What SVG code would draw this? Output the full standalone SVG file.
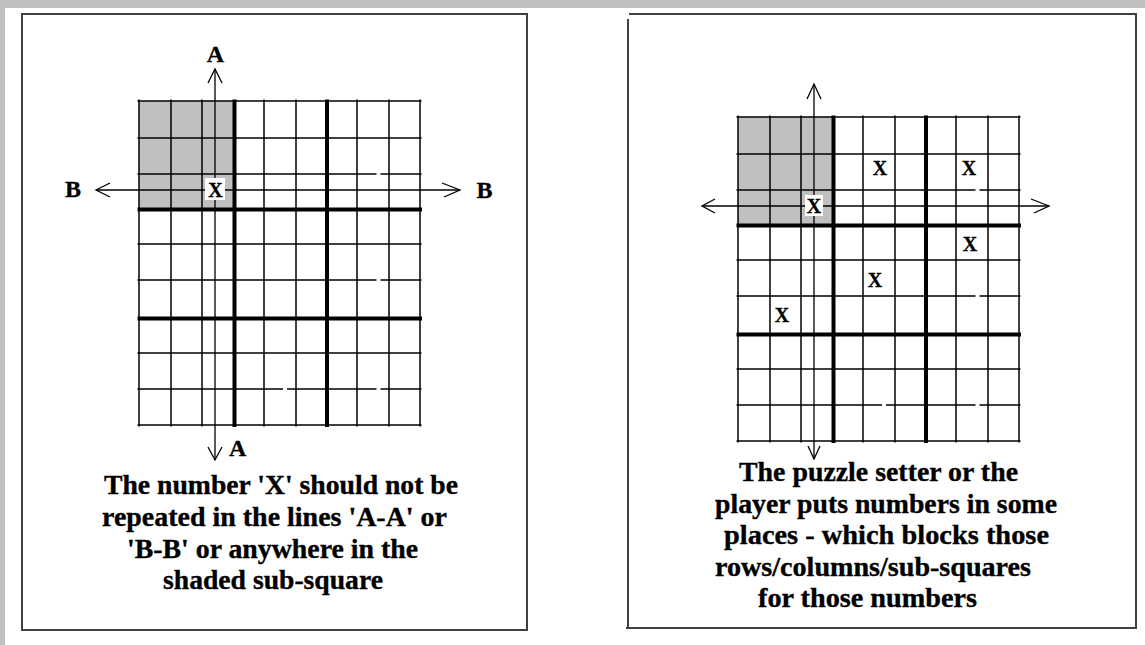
<svg xmlns="http://www.w3.org/2000/svg" xmlns:xlink="http://www.w3.org/1999/xlink" width="1145" height="645" viewBox="0 0 1145 645">
  <style>
    .frame { fill: none; stroke: #404040; stroke-width: 2; }
    .thin { stroke: #000; stroke-width: 1.5; }
    .thick { stroke: #000; stroke-width: 4; }
    .arrow { fill: none; stroke: #000; stroke-width: 1.3; }
    .body { font-family: "Liberation Serif", "Times New Roman", serif; font-weight: bold; font-size: 27.5px; fill: #000; stroke: #000; stroke-width: 0.35; }
    .lbl { font-family: "Liberation Serif", "Times New Roman", serif; font-weight: bold; font-size: 24px; fill: #000; stroke: #000; stroke-width: 0.3; }
    .x { font-family: "Liberation Serif", "Times New Roman", serif; font-weight: bold; font-size: 20px; fill: #000; stroke: #000; stroke-width: 0.3; text-anchor: middle; }
    .gap { fill: #fff; }
  </style>
  <defs>
    <g id="grid">
      <rect x="0" y="0" width="95" height="108" fill="#c0c0c0"/>
      <g class="thin">
        <line x1="0" y1="-1.5" x2="0" y2="325.5"/>
        <line x1="32" y1="-1.5" x2="32" y2="325.5"/>
        <line x1="63" y1="-1.5" x2="63" y2="325.5"/>
        <line x1="125" y1="-1.5" x2="125" y2="325.5"/>
        <line x1="157" y1="-1.5" x2="157" y2="325.5"/>
        <line x1="218" y1="-1.5" x2="218" y2="325.5"/>
        <line x1="250" y1="-1.5" x2="250" y2="325.5"/>
        <line x1="281" y1="-1.5" x2="281" y2="325.5"/>
        <line x1="-1.5" y1="0" x2="282.5" y2="0"/>
        <line x1="-1.5" y1="37" x2="282.5" y2="37"/>
        <line x1="-1.5" y1="73" x2="282.5" y2="73"/>
        <line x1="-1.5" y1="143" x2="282.5" y2="143"/>
        <line x1="-1.5" y1="179" x2="282.5" y2="179"/>
        <line x1="-1.5" y1="252" x2="282.5" y2="252"/>
        <line x1="-1.5" y1="288" x2="282.5" y2="288"/>
        <line x1="-1.5" y1="324" x2="282.5" y2="324"/>
      </g>
      <g class="thick">
        <line x1="95.5" y1="-1.5" x2="95.5" y2="326"/>
        <line x1="188" y1="-1.5" x2="188" y2="326"/>
        <line x1="-1.5" y1="108.5" x2="283" y2="108.5"/>
        <line x1="-1.5" y1="217.5" x2="283" y2="217.5"/>
      </g>
      <g class="gap">
        <rect x="237.5" y="71.5" width="4" height="3"/>
        <rect x="237.5" y="177.5" width="4" height="3"/>
        <rect x="144" y="286.5" width="4" height="3"/>
        <rect x="237.5" y="286.5" width="4" height="3"/>
      </g>
    </g>
  </defs>

  <g id="background">
    <rect x="0" y="0" width="1145" height="645" fill="#fff"/>
    <rect x="0" y="0" width="1145" height="8" fill="#c0c0c0"/>
    <rect x="0" y="0" width="5" height="645" fill="#c0c0c0"/>
  </g>

  <!-- Left panel -->
  <g id="panel-left">
    <rect class="frame" x="22" y="14" width="505" height="616"/>
    <use id="grid-left" xlink:href="#grid" href="#grid" transform="translate(139,101)"/>
  </g>

  <!-- Right panel -->
  <g id="panel-right">
    <path class="frame" d="M629 14 H1136 V628 H626 M628 628 V19"/>
    <use id="grid-right" xlink:href="#grid" href="#grid" transform="translate(738,117)"/>
  </g>

  <g id="connectors">
    <!-- left panel: A-A and B-B -->
    <line class="arrow" x1="215" y1="69" x2="215" y2="460"/>
    <polyline class="arrow" points="208,83 215,69 222,83"/>
    <polyline class="arrow" points="208,447 215,460 222,447"/>
    <line class="arrow" x1="96" y1="190" x2="460" y2="190"/>
    <polyline class="arrow" points="110,183 96,190 110,197"/>
    <polyline class="arrow" points="442,183 460,190 444,197"/>
    <!-- right panel -->
    <line class="arrow" x1="814" y1="84" x2="814" y2="459"/>
    <polyline class="arrow" points="807,99 814,84 821,99"/>
    <polyline class="arrow" points="808,446 814,459 820,446"/>
    <line class="arrow" x1="702" y1="206" x2="1049" y2="206"/>
    <polyline class="arrow" points="715,199 702,206 715,213"/>
    <polyline class="arrow" points="1031,199 1049,206 1034,213"/>
  </g>

  <g id="labels-left">
    <text class="lbl" x="215.5" y="62" text-anchor="middle">A</text>
    <text class="lbl" x="229" y="456">A</text>
    <text class="lbl" x="73" y="197" text-anchor="middle">B</text>
    <text class="lbl" x="484.5" y="198" text-anchor="middle">B</text>
  </g>

  <g id="x-left">
    <rect x="205" y="178" width="20" height="22" fill="#fff"/>
    <text class="x" x="215.5" y="197">X</text>
  </g>

  <g id="x-right">
    <rect x="805" y="195" width="18" height="21" fill="#fff"/>
    <text class="x" x="814" y="213">X</text>
    <text class="x" x="880" y="175">X</text>
    <text class="x" x="969" y="175">X</text>
    <text class="x" x="970" y="251">X</text>
    <text class="x" x="875" y="287">X</text>
    <text class="x" x="782" y="322">X</text>
  </g>

  <g id="caption-left">
    <text class="body" x="104" y="494" textLength="354" lengthAdjust="spacingAndGlyphs">The number 'X' should not be</text>
    <text class="body" x="102" y="526" textLength="345" lengthAdjust="spacingAndGlyphs">repeated in the lines 'A-A' or</text>
    <text class="body" x="127" y="557.5" textLength="291" lengthAdjust="spacingAndGlyphs">'B-B' or anywhere in the</text>
    <text class="body" x="163" y="589" textLength="220" lengthAdjust="spacingAndGlyphs">shaded sub-square</text>
  </g>

  <g id="caption-right">
    <text class="body" x="739" y="481" textLength="279" lengthAdjust="spacingAndGlyphs">The puzzle setter or the</text>
    <text class="body" x="715" y="512.5" textLength="342" lengthAdjust="spacingAndGlyphs">player puts numbers in some</text>
    <text class="body" x="724" y="544" textLength="325" lengthAdjust="spacingAndGlyphs">places - which blocks those</text>
    <text class="body" x="715" y="575.5" textLength="316" lengthAdjust="spacingAndGlyphs">rows/columns/sub-squares</text>
    <text class="body" x="758" y="607" textLength="219" lengthAdjust="spacingAndGlyphs">for those numbers</text>
  </g>
</svg>
